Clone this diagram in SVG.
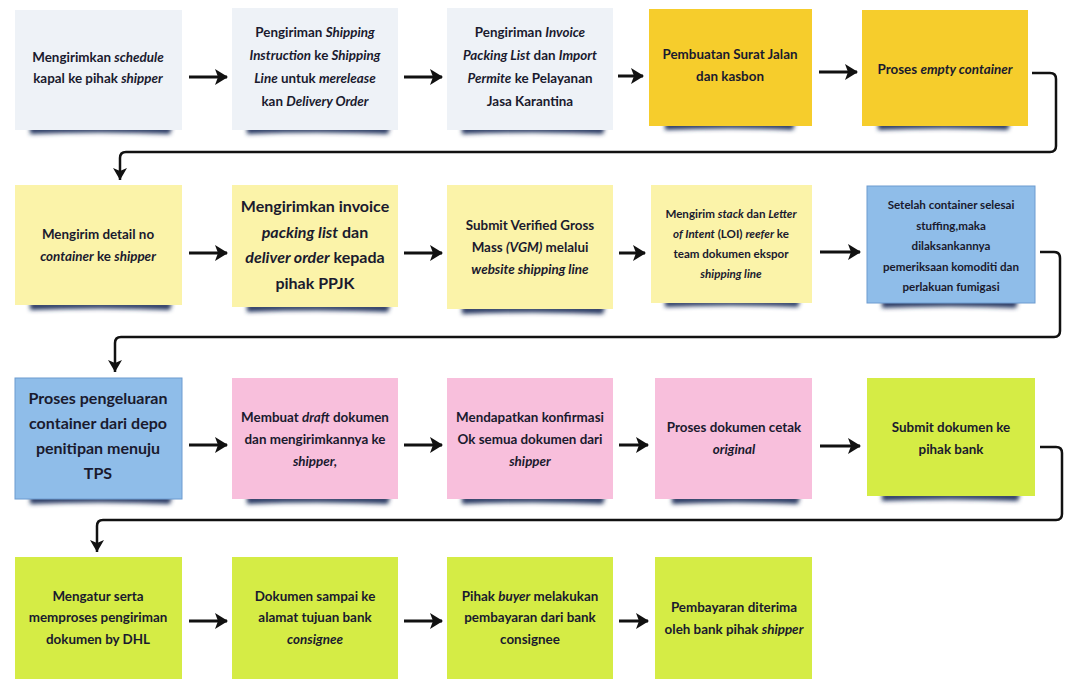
<svg xmlns="http://www.w3.org/2000/svg" width="1067" height="679" viewBox="0 0 1067 679">
<defs>
<style>
.t{font-family:Lato,"Open Sans","DejaVu Sans",sans-serif;font-weight:bold;font-size:13.4px;fill:#1a1a2e;text-anchor:middle}
.s{font-size:11.6px}
.b{font-size:16px}
.i{font-style:italic}
.n1{fill:#eef2f7}
.n2{fill:#f6cd2c}
.n3{fill:#fbf3a9}
.n4{fill:#8fbde9}
.n5{fill:#f8bfdc}
.n6{fill:#d5ec45}
.sh{fill:#2a3b63;filter:url(#blur)}
.ar{fill:none;stroke:#111;stroke-width:3;marker-end:url(#ah)}
.cn{fill:none;stroke:#111;stroke-width:2.5;marker-end:url(#ah2)}
</style>
<filter id="blur" x="-10%" y="-100%" width="120%" height="300%"><feGaussianBlur stdDeviation="2"/></filter>
<marker id="ah" markerUnits="userSpaceOnUse" markerWidth="14" markerHeight="16" refX="12" refY="8" orient="auto"><path d="M0,0 L13,8 L0,16 L3,8 z" fill="#111"/></marker>
<marker id="ah2" markerUnits="userSpaceOnUse" markerWidth="14" markerHeight="14" refX="12" refY="7" orient="auto"><path d="M0,0 L12,7 L0,14 L3,7 z" fill="#111"/></marker>
</defs>
<rect width="1067" height="679" fill="#ffffff"/>

<g id="connectors">
<path class="ar" d="M189,77 H227"/>
<path class="ar" d="M404,77 H442"/>
<path class="ar" d="M618,76 H643"/>
<path class="ar" d="M819,72 H857"/>
<path class="cn" d="M1032,73 H1050 Q1056,73 1056,79 V146 Q1056,152 1050,152 H126 Q120,152 120,158 V180"/>
<path class="ar" d="M189,253 H227"/>
<path class="ar" d="M404,253 H442"/>
<path class="ar" d="M619,253 H645"/>
<path class="ar" d="M820,252 H860"/>
<path class="cn" d="M1040,252 H1054 Q1060,252 1060,258 V331 Q1060,337 1054,337 H121 Q115,337 115,343 V372"/>
<path class="ar" d="M189,445 H227"/>
<path class="ar" d="M404,445 H442"/>
<path class="ar" d="M619,445 H648"/>
<path class="ar" d="M820,446 H860"/>
<path class="cn" d="M1040,447 H1056 Q1062,447 1062,453 V514 Q1062,520 1056,520 H103 Q97,520 97,526 V552"/>
<path class="ar" d="M189,621 H227"/>
<path class="ar" d="M404,621 H442"/>
<path class="ar" d="M619,621 H648"/>
</g>

<!-- Row 1 -->
<g id="n1">
<path class="sh" d="M30,126 H172 L170,134 Q100,131 30,134 z"/>
<rect class="n1" x="15" y="10" width="167" height="120"/>
<text class="t" x="98" y="62">Mengirimkan <tspan class="i">schedule</tspan></text>
<text class="t" x="98" y="83">kapal ke pihak <tspan class="i">shipper</tspan></text>
</g>
<g id="n2">
<path class="sh" d="M247,126 H390 L388,134 Q318,131 247,134 z"/>
<rect class="n1" x="232" y="8" width="166" height="122"/>
<text class="t" x="315" y="37">Pengiriman <tspan class="i">Shipping</tspan></text>
<text class="t" x="315" y="60"><tspan class="i">Instruction</tspan> ke <tspan class="i">Shipping</tspan></text>
<text class="t" x="315" y="83"><tspan class="i">Line</tspan> untuk <tspan class="i">merelease</tspan></text>
<text class="t" x="315" y="106">kan <tspan class="i">Delivery Order</tspan></text>
</g>
<g id="n3">
<path class="sh" d="M462,126 H605 L603,134 Q533,131 462,134 z"/>
<rect class="n1" x="447" y="8" width="166" height="122"/>
<text class="t" x="530" y="37">Pengiriman <tspan class="i">Invoice</tspan></text>
<text class="t" x="530" y="60"><tspan class="i">Packing List</tspan> dan <tspan class="i">Import</tspan></text>
<text class="t" x="530" y="83"><tspan class="i">Permite</tspan> ke Pelayanan</text>
<text class="t" x="530" y="106">Jasa Karantina</text>
</g>
<g id="n4">
<path class="sh" d="M665,122 H795 L793,130 Q730,127 665,130 z"/>
<rect class="n2" x="649" y="9" width="163" height="117"/>
<text class="t" x="730" y="59">Pembuatan Surat Jalan</text>
<text class="t" x="730" y="81">dan kasbon</text>
</g>
<g id="n5">
<path class="sh" d="M878,122 H1010 L1008,130 Q945,127 878,130 z"/>
<rect class="n2" x="862" y="10" width="166" height="116"/>
<text class="t" x="945" y="74">Proses <tspan class="i">empty container</tspan></text>
</g>

<!-- Row 2 -->
<g id="n6">
<path class="sh" d="M30,302 H172 L170,310 Q100,307 30,310 z"/>
<rect class="n3" x="15" y="185" width="167" height="120"/>
<text class="t" x="98" y="239">Mengirim detail no</text>
<text class="t" x="98" y="261"><tspan class="i">container</tspan> ke <tspan class="i">shipper</tspan></text>
</g>
<g id="n7">
<path class="sh" d="M247,304 H390 L388,312 Q318,309 247,312 z"/>
<rect class="n3" x="232" y="185" width="166" height="122"/>
<text class="t b" x="315" y="212">Mengirimkan invoice</text>
<text class="t b" x="315" y="238"><tspan class="i">packing list</tspan> dan</text>
<text class="t b" x="315" y="263"><tspan class="i">deliver order</tspan> kepada</text>
<text class="t b" x="315" y="289">pihak PPJK</text>
</g>
<g id="n8">
<path class="sh" d="M462,306 H605 L603,314 Q533,311 462,314 z"/>
<rect class="n3" x="447" y="185" width="166" height="124"/>
<text class="t" x="530" y="230">Submit Verified Gross</text>
<text class="t" x="530" y="252">Mass <tspan class="i">(VGM)</tspan> melalui</text>
<text class="t" x="530" y="274"><tspan class="i">website shipping line</tspan></text>
</g>
<g id="n9">
<path class="sh" d="M665,300 H800 L798,307 Q730,304 665,307 z"/>
<rect class="n3" x="651" y="185" width="161" height="118"/>
<text class="t s" x="731" y="218">Mengirim <tspan class="i">stack</tspan> dan <tspan class="i">Letter</tspan></text>
<text class="t s" x="731" y="238"><tspan class="i">of Intent</tspan> (LOI) <tspan class="i">reefer</tspan> ke</text>
<text class="t s" x="731" y="258">team dokumen ekspor</text>
<text class="t s" x="731" y="278"><tspan class="i">shipping line</tspan></text>
</g>
<g id="n10">
<path class="sh" d="M882,300 H1018 L1016,308 Q950,305 882,308 z"/>
<rect class="n4" x="867" y="186" width="168" height="117" stroke="#6d9bd0" stroke-width="1"/>
<text class="t s" x="951" y="209">Setelah container selesai</text>
<text class="t s" x="951" y="230">stuffing,maka</text>
<text class="t s" x="951" y="250">dilaksankannya</text>
<text class="t s" x="951" y="271">pemeriksaan komoditi dan</text>
<text class="t s" x="951" y="291">perlakuan fumigasi</text>
</g>

<!-- Row 3 -->
<g id="n11">
<path class="sh" d="M30,496 H172 L170,504 Q100,501 30,504 z"/>
<rect class="n4" x="15" y="378" width="167" height="121" stroke="#6d9bd0" stroke-width="1"/>
<text class="t b" x="98" y="404">Proses pengeluaran</text>
<text class="t b" x="98" y="429">container dari depo</text>
<text class="t b" x="98" y="454">penitipan menuju</text>
<text class="t b" x="98" y="479">TPS</text>
</g>
<g id="n12">
<path class="sh" d="M247,496 H390 L388,504 Q318,501 247,504 z"/>
<rect class="n5" x="232" y="378" width="166" height="121"/>
<text class="t" x="315" y="422">Membuat <tspan class="i">draft</tspan> dokumen</text>
<text class="t" x="315" y="444">dan mengirimkannya ke</text>
<text class="t" x="315" y="466"><tspan class="i">shipper,</tspan></text>
</g>
<g id="n13">
<path class="sh" d="M462,496 H605 L603,504 Q533,501 462,504 z"/>
<rect class="n5" x="447" y="378" width="166" height="121"/>
<text class="t" x="530" y="422">Mendapatkan konfirmasi</text>
<text class="t" x="530" y="444">Ok semua dokumen dari</text>
<text class="t" x="530" y="466"><tspan class="i">shipper</tspan></text>
</g>
<g id="n14">
<path class="sh" d="M672,496 H800 L798,504 Q735,501 672,504 z"/>
<rect class="n5" x="655" y="378" width="157" height="121"/>
<text class="t" x="734" y="432">Proses dokumen cetak</text>
<text class="t" x="734" y="454"><tspan class="i">original</tspan></text>
</g>
<g id="n15">
<path class="sh" d="M882,493 H1020 L1018,501 Q950,498 882,501 z"/>
<rect class="n6" x="867" y="378" width="168" height="118"/>
<text class="t" x="951" y="432">Submit dokumen ke</text>
<text class="t" x="951" y="454">pihak bank</text>
</g>

<!-- Row 4 -->
<g id="n16">
<rect class="n6" x="15" y="557" width="167" height="122"/>
<text class="t" x="98" y="601">Mengatur serta</text>
<text class="t" x="98" y="622">memproses pengiriman</text>
<text class="t" x="98" y="644">dokumen by DHL</text>
</g>
<g id="n17">
<rect class="n6" x="232" y="557" width="166" height="122"/>
<text class="t" x="315" y="601">Dokumen sampai ke</text>
<text class="t" x="315" y="622">alamat tujuan bank</text>
<text class="t" x="315" y="644"><tspan class="i">consignee</tspan></text>
</g>
<g id="n18">
<rect class="n6" x="447" y="557" width="166" height="122"/>
<text class="t" x="530" y="601">Pihak <tspan class="i">buyer</tspan> melakukan</text>
<text class="t" x="530" y="622">pembayaran dari bank</text>
<text class="t" x="530" y="644">consignee</text>
</g>
<g id="n19">
<rect class="n6" x="655" y="557" width="157" height="122"/>
<text class="t" x="734" y="612">Pembayaran diterima</text>
<text class="t" x="734" y="634">oleh bank pihak <tspan class="i">shipper</tspan></text>
</g>
</svg>
